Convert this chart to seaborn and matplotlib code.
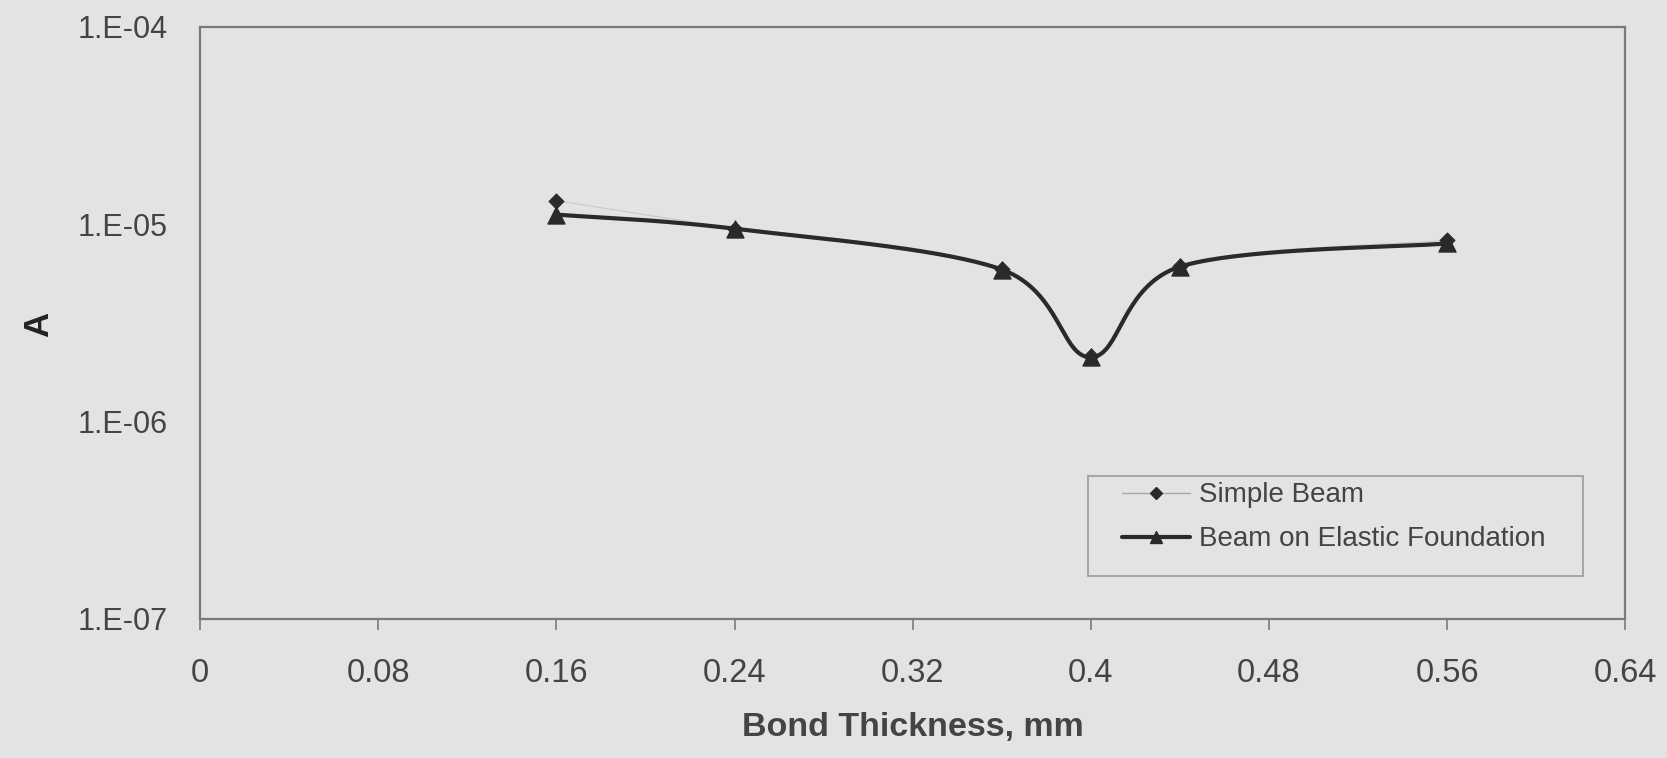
import numpy as np
import pandas as pd
import matplotlib
matplotlib.use("Agg")
import matplotlib.pyplot as plt
from matplotlib.lines import Line2D
from matplotlib.patches import Rectangle
import seaborn as sns

# ---- data ----
thickness = [0.16, 0.24, 0.36, 0.40, 0.44, 0.56]
simple_beam = [1.32e-5, 9.5e-6, 5.95e-6, 2.14e-6, 6.15e-6, 8.3e-6]
beam_elastic = [1.12e-5, 9.5e-6, 5.9e-6, 2.12e-6, 6.1e-6, 8.0e-6]
x_ticks = [0, 0.08, 0.16, 0.24, 0.32, 0.40, 0.48, 0.56, 0.64]
x_tick_labels = ["0", "0.08", "0.16", "0.24", "0.32", "0.4", "0.48", "0.56", "0.64"]
y_ticks = [1e-7, 1e-6, 1e-5, 1e-4]
y_tick_labels = ["1.E-07", "1.E-06", "1.E-05", "1.E-04"]

BG = "#e3e3e3"
TXT = "#444444"
SPINE = "#7a7a7a"


def smooth(xs, ys, n=40):
    """Catmull-Rom smoothing in (x, log y) space, like Excel's smoothed lines."""
    P = np.column_stack([np.asarray(xs, float), np.log10(np.asarray(ys, float))])
    out = []
    m = len(P)
    for i in range(m - 1):
        p0 = P[i - 1] if i > 0 else P[i]
        p1, p2 = P[i], P[i + 1]
        p3 = P[i + 2] if i + 2 < m else P[i + 1]
        t = np.linspace(0, 1, n)[:, None]
        c1 = p1 + (p2 - p0) / 6.0
        c2 = p2 - (p3 - p1) / 6.0
        seg = ((1 - t) ** 3) * p1 + 3 * ((1 - t) ** 2) * t * c1 + 3 * (1 - t) * t ** 2 * c2 + t ** 3 * p2
        out.append(seg if i == 0 else seg[1:])
    R = np.vstack(out)
    return R[:, 0], 10 ** R[:, 1]


sns.set_theme(style="white")
plt.rcParams["font.family"] = ["Liberation Sans", "DejaVu Sans"]

fig = plt.figure(figsize=(16.67, 7.58), dpi=100, facecolor=BG)
ax = fig.add_axes([0.120, 0.1834, 0.855, 0.7810])
ax.set_facecolor(BG)

sx1, sy1 = smooth(thickness, simple_beam)
sx2, sy2 = smooth(thickness, beam_elastic)
df1 = pd.DataFrame({"x": sx1, "y": sy1})
df2 = pd.DataFrame({"x": sx2, "y": sy2})

sns.lineplot(data=df1, x="x", y="y", ax=ax, color="#c9c9c9", lw=0.8, sort=False, estimator=None)
sns.lineplot(data=df2, x="x", y="y", ax=ax, color="#2a2a2a", lw=3.0, sort=False, estimator=None)
sns.scatterplot(x=thickness, y=simple_beam, ax=ax, marker="D", s=60, color="#2a2a2a", edgecolor="#2a2a2a", zorder=4)
sns.scatterplot(x=thickness, y=beam_elastic, ax=ax, marker="^", s=150, color="#2a2a2a", edgecolor="#2a2a2a", zorder=5)

ax.set_yscale("log")
ax.set_xlim(0, 0.64)
ax.set_ylim(1e-7, 1e-4)
ax.set_xticks(x_ticks)
ax.set_xticklabels(x_tick_labels)
ax.set_yticks(y_ticks)
ax.set_yticklabels(y_tick_labels)
ax.minorticks_off()
ax.tick_params(axis="x", direction="out", length=8, width=1.2, color=SPINE, labelsize=23.5, labelcolor=TXT, pad=20, bottom=True)
ax.tick_params(axis="y", length=0, labelsize=22, labelcolor=TXT, pad=23)
for s in ax.spines.values():
    s.set_color(SPINE)
    s.set_linewidth(1.6)
ax.grid(False)

ax.set_xlabel("Bond Thickness, mm", fontsize=24.5, fontweight="bold", color=TXT, labelpad=17)
ax.set_ylabel("A", fontsize=25, fontweight="bold", color="#222222")
ax.yaxis.set_label_coords(-0.102, 0.497)

# legend frame + entries
ax.add_patch(Rectangle((0.6232, 0.0726), 0.9705 - 0.6232, 0.2416 - 0.0726, transform=ax.transAxes,
                       facecolor=BG, edgecolor="#9a9a9a", lw=1.2, zorder=6))
handles = [
    Line2D([0], [0], color="#a8a8a8", lw=1.0, marker="D", markersize=6, markerfacecolor="#2a2a2a", markeredgecolor="#2a2a2a"),
    Line2D([0], [0], color="#2a2a2a", lw=3.0, marker="^", markersize=9, markerfacecolor="#2a2a2a", markeredgecolor="#2a2a2a"),
]
leg = ax.legend(handles, ["Simple Beam", "Beam on Elastic Foundation"], loc="upper left",
                bbox_to_anchor=(0.647, 0.231), borderaxespad=0, borderpad=0, fontsize=20, frameon=False,
                handlelength=2.45, labelspacing=0.65, handletextpad=0.3)
leg.set_zorder(7)
for t in leg.get_texts():
    t.set_color(TXT)

fig.savefig("out.png", dpi=100, facecolor=BG)
